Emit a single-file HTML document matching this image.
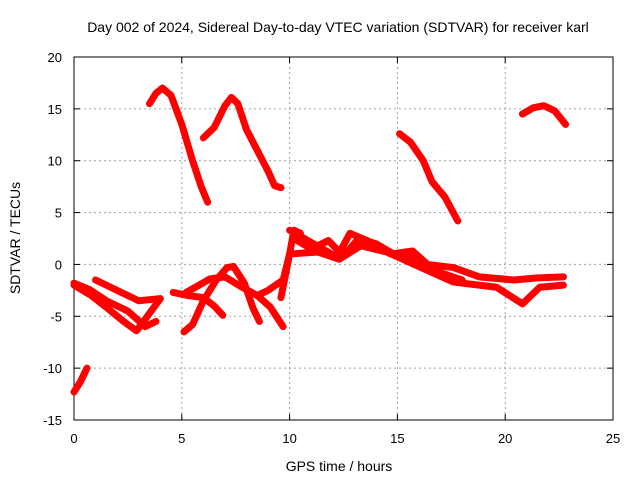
<!DOCTYPE html>
<html><head><meta charset="utf-8"><style>
body{margin:0;background:#fff}
svg{display:block;font-family:"Liberation Sans",sans-serif}
</style></head><body>
<svg width="640" height="480">
<rect width="640" height="480" fill="#fff"/>
<text x="338" y="32" font-size="14" text-anchor="middle">Day 002 of 2024, Sidereal Day-to-day VTEC variation (SDTVAR) for receiver karl</text>
<g id="grid"></g><g id="axes"></g><g id="series"></g>
<text x="339" y="471" font-size="14" text-anchor="middle">GPS time / hours</text>
<text x="20" y="238" font-size="14" text-anchor="middle" transform="rotate(-90 20 238)">SDTVAR / TECUs</text>
</svg>
<script>
const xTicks=[0,5,10,15,20,25];
const yTicks=[-15,-10,-5,0,5,10,15,20];
const track1H=[3.5,3.8,4.1,4.5,5,5.5,5.9,6.2];
const track1V=[15.5,16.5,17,16.3,13.5,10,7.5,6];
const track2H=[6,6.5,7,7.3,7.6,8,8.5,9,9.3,9.6];
const track2V=[12.2,13.2,15.3,16.1,15.5,13,11,9,7.6,7.4];
const track3H=[15.1,15.6,16.2,16.6,17.2,17.8];
const track3V=[12.6,11.8,10,8,6.5,4.2];
const track4H=[20.8,21.3,21.8,22.3,22.8];
const track4V=[14.5,15.1,15.3,14.8,13.5];
const track5H=[0,0.3,0.6];
const track5V=[-12.3,-11.3,-10];
const trackAH=[0,0.8,1.6,2.3,2.9,3.4,4];
const trackAV=[-2,-3,-4.3,-5.5,-6.4,-5,-3.3];
const trackBH=[0,0.7,1.5,2.5,3.3,3.8];
const trackBV=[-1.8,-2.4,-3.5,-4.5,-6,-5.5];
const trackCH=[1,2,3,3.5,4];
const trackCV=[-1.5,-2.5,-3.5,-3.4,-3.3];
const trackDH=[4.6,5.3,6,6.5,6.9];
const trackDV=[-2.7,-3,-3.2,-4,-4.9];
const trackEH=[5.1,5.5,6,6.6,7.1,7.4,7.9,8.3,8.6];
const trackEV=[-6.5,-5.8,-3.5,-1.5,-0.3,-0.2,-1.8,-4.2,-5.5];
const trackFH=[5.2,5.8,6.3,7,7.8,8.5,9.1,9.7];
const trackFV=[-2.7,-2,-1.4,-1.2,-2.2,-3,-4.1,-6];
const trackGH=[8.5,9,9.7,10,10.2,10.5];
const trackGV=[-3,-2.5,-1.5,1,3.3,3];
const trackUH=[10,11.1,12.2,12.8,13.6,14.7,15.7,16.4,17.6,18.8,20.4,21.5,22.7];
const trackUV=[3.3,2,0.7,3,2.3,1,1.3,0,-0.3,-1.2,-1.5,-1.3,-1.2];
const trackLH=[9.6,10,11.3,12.3,13.3,14.5,16.1,17.6,19.6,20.8,21.6,22.7];
const trackLV=[-3.2,1,1.2,0.5,1.8,1.2,-0.3,-1.7,-2.2,-3.8,-2.2,-2];
const trackMH=[10.2,11,11.8,12.5,13.2,14,15,16,17,18];
const trackMV=[2.5,1.5,2.3,0.8,2.5,2,0.8,0.5,-0.8,-1.5];
const tracks=[[track1H,track1V],[track2H,track2V],[track3H,track3V],[track4H,track4V],[track5H,track5V],[trackAH,trackAV],[trackBH,trackBV],[trackCH,trackCV],[trackDH,trackDV],[trackEH,trackEV],[trackFH,trackFV],[trackGH,trackGV],[trackUH,trackUV],[trackLH,trackLV],[trackMH,trackMV]];
const X0=74,X1=613,Y0=420,Y1=57;
const xs=h=>X0+h/25*(X1-X0);
const ys=v=>Y0-(v+15)/35*(Y0-Y1);
const NS="http://www.w3.org/2000/svg";
function mk(t,a,p){const e=document.createElementNS(NS,t);for(const k in a)e.setAttribute(k,a[k]);p.appendChild(e);return e;}
const grid=document.getElementById('grid'),axes=document.getElementById('axes'),ser=document.getElementById('series');
xTicks.forEach(t=>{const x=xs(t);
 if(t>0&&t<25){const g=mk('line',{x1:x,x2:x,y1:Y1,y2:Y0,stroke:'#a0a0a0','stroke-dasharray':'2,3'},grid);
 
 }
 mk('line',{x1:x,x2:x,y1:Y0,y2:Y0-6,stroke:'#000'},axes);mk('line',{x1:x,x2:x,y1:Y1,y2:Y1+6,stroke:'#000'},axes);
 const l=mk('text',{x:x,y:443,'font-size':13,'text-anchor':'middle'},axes);l.textContent=t;
 
 });
yTicks.forEach(t=>{const y=ys(t);
 if(t>-15&&t<20){const g=mk('line',{x1:X0,x2:X1,y1:y,y2:y,stroke:'#a0a0a0','stroke-dasharray':'2,3'},grid);
 
 }
 mk('line',{x1:X0,x2:X0+6,y1:y,y2:y,stroke:'#000'},axes);mk('line',{x1:X1,x2:X1-6,y1:y,y2:y,stroke:'#000'},axes);
 const l=mk('text',{x:X0-12,y:y+5,'font-size':13,'text-anchor':'end'},axes);l.textContent=t;
 
 });
const fr=mk('rect',{x:X0,y:Y1,width:X1-X0,height:Y0-Y1,fill:'none',stroke:'#000'},axes);


tracks.forEach(([H,V])=>{const p=mk('polyline',{points:H.map((h,i)=>xs(h)+','+ys(V[i])).join(' '),fill:'none',stroke:'#ff0000','stroke-width':7,'stroke-linejoin':'round','stroke-linecap':'round'},ser);
 
 });
</script>
</body></html>
